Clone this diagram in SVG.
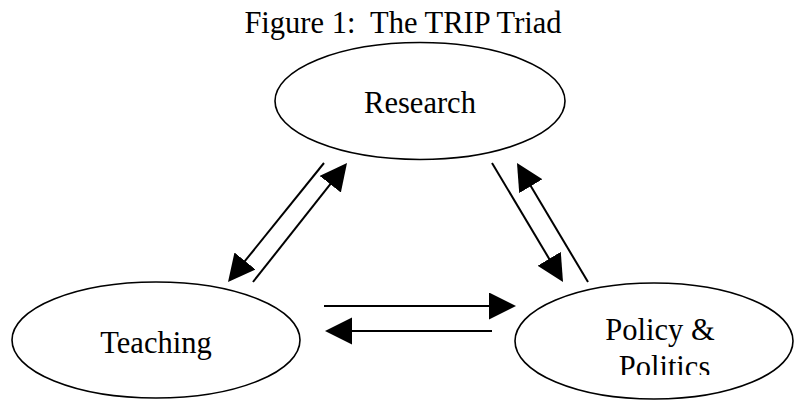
<svg xmlns="http://www.w3.org/2000/svg" width="794" height="400" viewBox="0 0 794 400">
  <style>
    .node { fill: #ffffff; stroke: #000000; stroke-width: 1.6; }
    .lbl { font-family: "Liberation Serif", "Times New Roman", serif; font-size: 30.5px; fill: #000000; text-anchor: middle; white-space: pre; }
    .edge { stroke: #000000; stroke-width: 2; fill: none; marker-end: url(#arrow); }
  </style>
  <defs>
    <marker id="arrow" markerUnits="userSpaceOnUse" markerWidth="28" markerHeight="28" refX="17" refY="13.5" orient="auto" viewBox="0 0 28 28">
      <path d="M0,0 L27,13.5 L0,27 Z" fill="#000000"/>
    </marker>
    <clipPath id="clipPol">
      <rect x="500" y="0" width="294" height="375"/>
    </clipPath>
  </defs>
  <rect width="794" height="400" fill="#ffffff"/>
  <text id="title" class="lbl" x="403" y="33" xml:space="preserve">Figure 1:  The TRIP Triad</text>

  <g id="research">
    <ellipse class="node" cx="420" cy="101" rx="145" ry="58.5"/>
    <text class="lbl" x="420" y="113">Research</text>
  </g>
  <g id="teaching">
    <ellipse class="node" cx="156" cy="340" rx="144" ry="58"/>
    <text class="lbl" x="156" y="353">Teaching</text>
  </g>
  <g id="policy">
    <ellipse class="node" cx="654" cy="341" rx="139" ry="58"/>
    <text class="lbl" x="660" y="340">Policy &amp;</text>
    <text class="lbl" x="664.5" y="377" clip-path="url(#clipPol)">Politics</text>
  </g>

  <g id="connectors">
    <line class="edge" x1="324" y1="163" x2="234.3" y2="274.2"/>
    <line class="edge" x1="253" y1="282" x2="340.8" y2="170.9"/>
    <line class="edge" x1="492" y1="163" x2="557.9" y2="273.4"/>
    <line class="edge" x1="588" y1="282" x2="522.1" y2="171.6"/>
    <line class="edge" x1="324" y1="306" x2="506" y2="306"/>
    <line class="edge" x1="492" y1="331" x2="335" y2="331"/>
  </g>
</svg>
